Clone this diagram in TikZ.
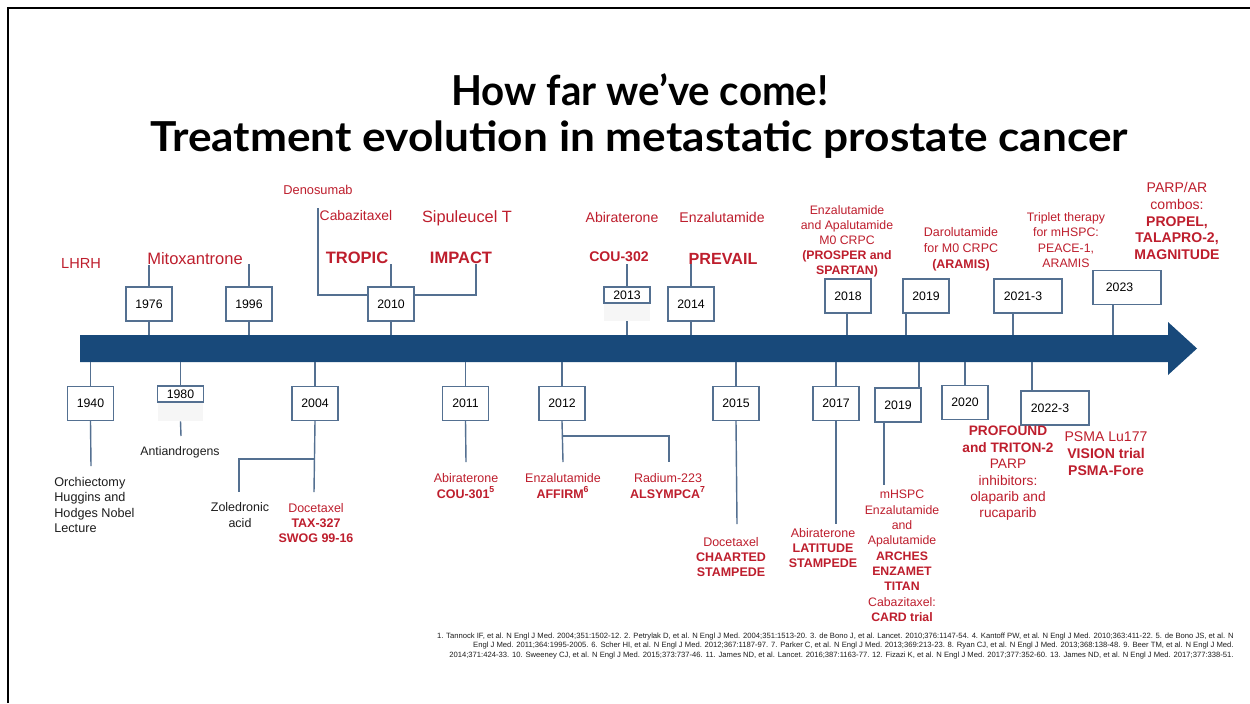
\documentclass[tikz,border=0pt]{standalone}
\usepackage{graphicx}
\usepackage{fontspec}
\setmainfont{Liberation Sans}
\newfontfamily\titlefont{Lato}
\definecolor{barblue}{RGB}{24,73,122}
\definecolor{boxc}{RGB}{84,112,145}
\definecolor{tred}{RGB}{190,30,45}
\definecolor{txtc}{RGB}{30,30,30}
\definecolor{ghostc}{RGB}{246,246,246}
\begin{document}
\begin{tikzpicture}[x=0.02cm,y=-0.02cm,
  yrbox/.style={draw=boxc,line width=0.8pt,fill=white,minimum width=0.92cm,minimum height=0.68cm,inner sep=0pt,font=\fontsize{7}{8}\selectfont},
  yrwide/.style={yrbox,minimum width=1.36cm},
  yrsmall/.style={yrbox,minimum height=0.32cm},
  ghost/.style={fill=ghostc,draw=none,minimum width=0.92cm,inner sep=0pt},
  conn/.style={draw=boxc,line width=0.8pt},
  redtxt/.style={text=tred,align=center,inner sep=0pt},
  blktxt/.style={text=txtc,align=center,inner sep=0pt},
  titletxt/.style={inner sep=0pt,font=\titlefont\bfseries\fontsize{23.5}{27}\selectfont},
]
\useasboundingbox (0,0) rectangle (1250,703);
\fill[white] (0,0) rectangle (1250,703);
% frame
\draw[line width=1.4pt,black] (8,703) -- (8,8) -- (1250,8);
% title
\node[titletxt] (t1) at (640,90) {\scalebox{0.975}[1]{How far we’ve come!}};
\node[titletxt] (t2) at (639,140) {\scalebox{1.07}[1]{Treatment evolution in metastatic prostate cancer}};
% bar
\fill[barblue] (80,335) -- (1168,335) -- (1168,322) -- (1197,348.5) -- (1168,375) -- (1168,362) -- (80,362) -- cycle;
\coordinate (bartop) at (0,335);
\coordinate (barbot) at (0,362);

% ---------- top boxes ----------
\node[yrbox] (b1976) at (149,304) {1976};
\node[yrbox] (b1996) at (249,304) {1996};
\node[yrbox] (b2010) at (391,304) {2010};
\node[ghost,minimum height=0.36cm] (g2013) at (627,312) {};
\node[yrsmall] (b2013) at (627,295) {2013};
\node[yrbox] (b2014) at (691,304) {2014};
\node[yrbox] (b2018) at (848,296) {2018};
\node[yrbox] (b2019t) at (926,296) {2019};
\node[yrwide] (b2021) at (1028,296) {\hspace*{-0.2cm}2021-3};
\node[yrwide] (b2023) at (1127,287.5) {\hspace*{-0.3cm}2023};

% ---------- top labels ----------
\node[redtxt,font=\fontsize{8.3}{10}\selectfont] (lhrh) at (81,263) {LHRH};
\node[redtxt,font=\fontsize{9.4}{11}\selectfont] (mitox) at (195,259) {Mitoxantrone};
\node[redtxt,font=\fontsize{7.3}{9}\selectfont] (denos) at (318,190) {Denosumab};
\node[redtxt,font=\fontsize{7.9}{9}\selectfont] (cabaz) at (356,216) {Cabazitaxel};
\node[redtxt,font=\fontsize{9.3}{11}\selectfont] (sipu) at (467,218) {Sipuleucel T};
\node[redtxt,font=\bfseries\fontsize{9.4}{11}\selectfont] (tropic) at (357,258) {TROPIC};
\node[redtxt,font=\bfseries\fontsize{9.4}{11}\selectfont] (impact) at (461,258) {IMPACT};
\node[redtxt,font=\fontsize{8}{9}\selectfont] (abit) at (622,217) {Abiraterone};
\node[redtxt,font=\bfseries\fontsize{8}{9}\selectfont] (cou302) at (619,257) {COU-302};
\node[redtxt,font=\fontsize{8}{9}\selectfont] (enzt) at (722,217) {Enzalutamide};
\node[redtxt,font=\bfseries\fontsize{9.2}{11}\selectfont] (prevail) at (723,259) {PREVAIL};
\node[redtxt,font=\fontsize{7}{8.5}\selectfont] (prosper) at (847,241)
  {Enzalutamide\\and Apalutamide\\M0 CRPC\\\textbf{(PROSPER and}\\\textbf{SPARTAN)}};
\node[redtxt,font=\fontsize{7.1}{9}\selectfont] (aramis) at (961,249)
  {Darolutamide\\for M0 CRPC\\\textbf{(ARAMIS)}};
\node[redtxt,font=\fontsize{7}{8.8}\selectfont] (triplet) at (1066,240)
  {Triplet therapy\\for mHSPC:\\PEACE-1,\\ARAMIS};
\node[redtxt,font=\fontsize{8}{9.6}\selectfont] (parp) at (1177,221)
  {PARP/AR\\combos:\\\textbf{PROPEL,}\\\textbf{TALAPRO-2,}\\\textbf{MAGNITUDE}};

% ---------- top connectors ----------
\coordinate (e1976) at (149,265);
\coordinate (e1996) at (249,264);
\coordinate (e2010) at (391,264);
\coordinate (e2010l) at (318,208);
\coordinate (e2010r) at (476,264);
\coordinate (e2013) at (627,264);
\coordinate (e2014) at (691,264);
\coordinate (p2018) at (847,335);
\coordinate (p2019t) at (906,335);
\coordinate (p2021) at (1013,335);
\coordinate (p2023) at (1113,335);
\draw[conn] (b1976.north) -- (e1976);
\draw[conn] (b1976.south) -- (b1976.south |- bartop);
\draw[conn] (b1996.north) -- (e1996);
\draw[conn] (b1996.south) -- (b1996.south |- bartop);
\draw[conn] (b2010.north) -- (e2010);
\draw[conn] (b2010.south) -- (b2010.south |- bartop);
\draw[conn] ([yshift=0.18cm]b2010.west) -| (e2010l);
\draw[conn] ([yshift=0.18cm]b2010.east) -| (e2010r);
\draw[conn] (b2013.north) -- (e2013);
\draw[conn] (g2013.south) -- (g2013.south |- bartop);
\draw[conn] (b2014.north) -- (e2014);
\draw[conn] (b2014.south) -- (b2014.south |- bartop);
\draw[conn] (b2018.south -| p2018) -- (p2018);
\draw[conn] (b2019t.south -| p2019t) -- (p2019t);
\draw[conn] (b2021.south -| p2021) -- (p2021);
\draw[conn] (b2023.south -| p2023) -- (p2023);

% ---------- bottom boxes ----------
\node[yrbox] (b1940) at (90.5,403.5) {1940};
\node[ghost,minimum height=0.38cm] (g1980) at (180.5,411.5) {};
\node[yrsmall] (b1980) at (180.5,394) {1980};
\node[yrbox] (b2004) at (315,403.5) {2004};
\node[yrbox] (b2011) at (465.5,403.5) {2011};
\node[yrbox] (b2012) at (562,403.5) {2012};
\node[yrbox] (b2015) at (736,403.5) {2015};
\node[yrbox] (b2017) at (836,403.5) {2017};
\node[yrbox] (b2019b) at (898,405) {2019};
\node[yrbox] (b2020) at (965,402.5) {2020};
\node[yrwide] (b2022) at (1055,408) {\hspace*{-0.2cm}2022-3};

% ---------- bottom labels ----------
\node[blktxt,align=left,anchor=west,font=\fontsize{7.2}{8.7}\selectfont] (orch) at (54,505)
  {Orchiectomy\\Huggins and\\Hodges Nobel\\Lecture};
\node[blktxt,font=\fontsize{7}{8.7}\selectfont] (antia) at (180,452) {Antiandrogens};
\node[blktxt,font=\fontsize{7.1}{8.8}\selectfont] (zole) at (240,515) {Zoledronic\\acid};
\node[redtxt,font=\fontsize{7.1}{8.8}\selectfont] (tax) at (316,523)
  {Docetaxel\\\textbf{TAX-327}\\\textbf{SWOG 99-16}};
\node[redtxt,font=\fontsize{7.1}{8.8}\selectfont] (cou301) at (466,486)
  {Abiraterone\\\textbf{COU-301\textsuperscript{5}}};
\node[redtxt,font=\fontsize{7.1}{8.8}\selectfont] (affirm) at (563,486)
  {Enzalutamide\\\textbf{AFFIRM\textsuperscript{6}}};
\node[redtxt,font=\fontsize{7.1}{8.8}\selectfont] (alsy) at (668,486)
  {Radium-223\\\textbf{ALSYMPCA\textsuperscript{7}}};
\node[redtxt,font=\fontsize{7.1}{8.6}\selectfont] (chaarted) at (731,557)
  {Docetaxel\\\textbf{CHAARTED}\\\textbf{STAMPEDE}};
\node[redtxt,font=\fontsize{7.1}{8.6}\selectfont] (latitude) at (823,548)
  {Abiraterone\\\textbf{LATITUDE}\\\textbf{STAMPEDE}};
\node[redtxt,font=\fontsize{7}{8.75}\selectfont] (arches) at (902,556)
  {mHSPC\\Enzalutamide\\and\\Apalutamide\\\textbf{ARCHES}\\\textbf{ENZAMET}\\\textbf{TITAN}\\Cabazitaxel:\\\textbf{CARD trial}};
\node[redtxt,font=\fontsize{7.8}{9.35}\selectfont] (profound) at (1008,473.5)
  {\textbf{PROFOUND}\\\textbf{and TRITON-2}\\PARP\\inhibitors:\\olaparib and\\rucaparib};
\node[redtxt,font=\fontsize{8}{9.6}\selectfont] (psma) at (1106,454)
  {PSMA Lu177\\\textbf{VISION trial}\\\textbf{PSMA-Fore}};

% ---------- bottom connectors ----------
\coordinate (e1940) at (91,466);
\coordinate (e1980) at (181,436);
\coordinate (e2004) at (314,492);
\coordinate (j2004) at (314,459);
\coordinate (e2004l) at (239,492);
\coordinate (e2011) at (466,462);
\coordinate (e2012) at (563,462);
\coordinate (j2012) at (563,436);
\coordinate (e2012r) at (669,462);
\coordinate (e2015) at (737,524);
\coordinate (e2017) at (836,524);
\coordinate (p2019b) at (919,362);
\coordinate (e2019b) at (884,485);
\draw[conn] (b1940.north |- barbot) -- (b1940.north);
\draw[conn] (b1940.south) -- (e1940);
\draw[conn] (b1980.north |- barbot) -- (b1980.north);
\draw[conn] (g1980.south) -- (e1980);
\draw[conn] (b2004.north |- barbot) -- (b2004.north);
\draw[conn] (b2004.south) -- (e2004);
\draw[conn] (j2004) -| (e2004l);
\draw[conn] (b2011.north |- barbot) -- (b2011.north);
\draw[conn] (b2011.south) -- (e2011);
\draw[conn] (b2012.north |- barbot) -- (b2012.north);
\draw[conn] (b2012.south) -- (e2012);
\draw[conn] (j2012) -| (e2012r);
\draw[conn] (b2015.north |- barbot) -- (b2015.north);
\draw[conn] (b2015.south) -- (e2015);
\draw[conn] (b2017.north |- barbot) -- (b2017.north);
\draw[conn] (b2017.south) -- (e2017);
\draw[conn] (p2019b) -- (b2019b.north -| p2019b);
\draw[conn] (b2019b.south -| e2019b) -- (e2019b);
\draw[conn] (b2020.north |- barbot) -- (b2020.north);
\draw[conn] ([xshift=-0.46cm]b2022.north |- barbot) -- ([xshift=-0.46cm]b2022.north);

% ---------- references ----------
\node[anchor=east,align=right,inner sep=0pt,text=txtc,font=\fontsize{4.35}{5.67}\selectfont] (refs) at (1234,646)
 {1. Tannock IF, et al. N Engl J Med. 2004;351:1502-12. 2. Petrylak D, et al. N Engl J Med. 2004;351:1513-20. 3. de Bono J, et al. Lancet. 2010;376:1147-54. 4. Kantoff PW, et al. N Engl J Med. 2010;363:411-22. 5. de Bono JS, et al. N\\
 Engl J Med. 2011;364:1995-2005. 6. Scher HI, et al. N Engl J Med. 2012;367:1187-97. 7. Parker C, et al. N Engl J Med. 2013;369:213-23. 8. Ryan CJ, et al. N Engl J Med. 2013;368:138-48. 9. Beer TM, et al. N Engl J Med.\\
 2014;371:424-33. 10. Sweeney CJ, et al. N Engl J Med. 2015;373:737-46. 11. James ND, et al. Lancet. 2016;387:1163-77. 12. Fizazi K, et al. N Engl J Med. 2017;377:352-60. 13. James ND, et al. N Engl J Med. 2017;377:338-51.};
\end{tikzpicture}
\end{document}
